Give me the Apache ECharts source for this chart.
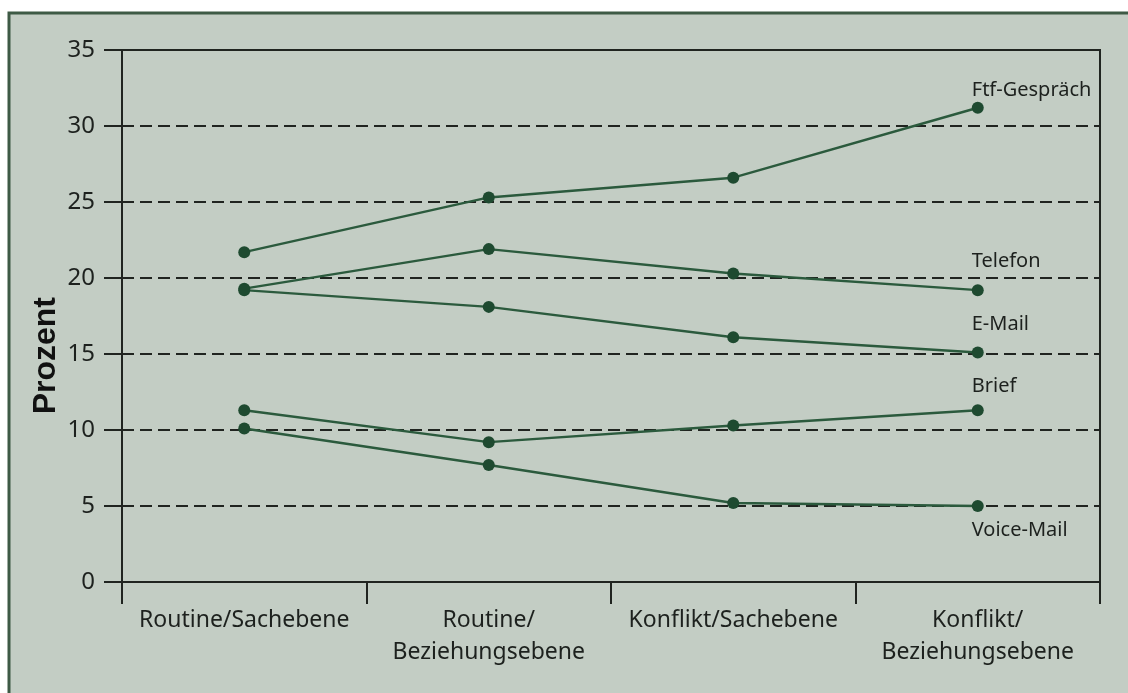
<!DOCTYPE html>
<html><head><meta charset="utf-8">
<script src="https://cdn.jsdelivr.net/npm/echarts@6/dist/echarts.min.js"></script>
<style>html,body{margin:0;padding:0;background:#fff}#c{width:1128px;height:693px}</style>
</head><body><div id="c"></div>
<script>
const categories = ['Routine/Sachebene', 'Routine/\nBeziehungsebene', 'Konflikt/Sachebene', 'Konflikt/\nBeziehungsebene'];
const seriesNames = ['Ftf-Gespräch', 'Telefon', 'E-Mail', 'Brief', 'Voice-Mail'];
const ftf = [21.7, 25.3, 26.6, 31.2];
const telefon = [19.3, 21.9, 20.3, 19.2];
const email = [19.2, 18.1, 16.1, 15.1];
const brief = [11.3, 9.2, 10.3, 11.3];
const voicemail = [10.1, 7.7, 5.2, 5.0];
const yTicks = [0, 5, 10, 15, 20, 25, 30, 35];
const yTitle = 'Prozent';

const font = '"Noto Sans", "Open Sans", sans-serif';
const txt = '#1d211e';
const lineCol = '#2b5a3d';
const dotCol = '#1e4a30';
const labelOffsets = [[-6, 4], [-6, -8], [-6, -7], [-6, -3], [-6, 3]];

const all = [ftf, telefon, email, brief, voicemail];
const chart = echarts.init(document.getElementById('c'));
chart.setOption({
  animation: false,
  backgroundColor: '#fff',
  graphic: [{
    type: 'rect', z: -10, silent: true,
    shape: { x: 9, y: 13, width: 1125, height: 690 },
    style: { fill: '#c3cdc4', stroke: '#3e5a45', lineWidth: 3 }
  }, {
    type: 'text', left: 30, top: 297, rotation: Math.PI / 2, silent: true,
    style: { text: yTitle, fill: '#111', font: 'bold 32px "Liberation Sans", Arial, sans-serif' }
  }],
  grid: { left: 122, right: 28, top: 50, bottom: 111, show: true, borderColor: '#202420', borderWidth: 2, backgroundColor: 'transparent' },
  xAxis: {
    type: 'category', data: categories, boundaryGap: true,
    axisLine: { lineStyle: { color: '#202420', width: 2 } },
    axisTick: { show: true, length: 22, lineStyle: { color: '#202420', width: 2 } },
    axisLabel: { color: txt, fontFamily: font, fontSize: 23, margin: 22, lineHeight: 32, interval: 0 }
  },
  yAxis: {
    type: 'value', min: 0, max: 35, interval: 5,
    axisLine: { show: true, lineStyle: { color: '#202420', width: 2 } },
    axisTick: { show: true, length: 18, lineStyle: { color: '#202420', width: 2 } },
    axisLabel: { color: txt, fontFamily: font, fontSize: 24, margin: 27,
      formatter: v => yTicks.includes(v) ? String(v) : '' },
    splitLine: { show: true, lineStyle: { color: '#202420', width: 2, type: [12, 6] } }
  },
  series: all.map((arr, si) => ({
    name: seriesNames[si], type: 'line', data: arr.map((v, i) => (i === arr.length - 1 ? {
      value: v,
      label: { show: true, formatter: seriesNames[si], position: si === 4 ? 'bottom' : 'top', align: 'left',
        offset: labelOffsets[si], color: txt, fontFamily: font, fontSize: 20 }
    } : v)),
    symbol: 'circle', symbolSize: 12,
    lineStyle: { color: lineCol, width: 2.4 },
    itemStyle: { color: dotCol },
    z: 5
  }))
});
</script></body></html>
